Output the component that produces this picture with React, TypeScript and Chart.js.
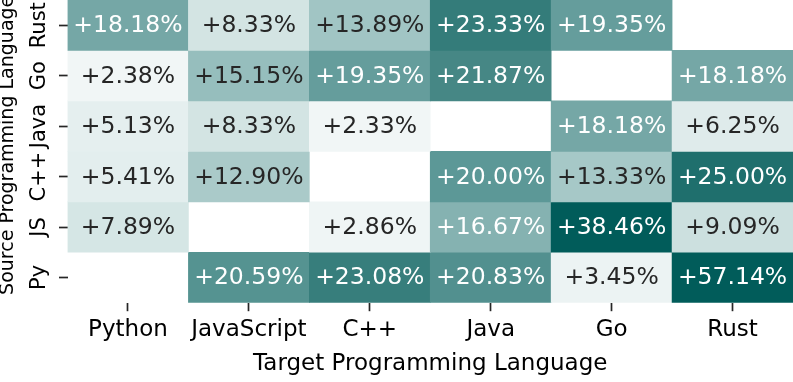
import React, { useEffect, useRef } from "react";
import { Chart, registerables } from "chart.js";

Chart.register(...registerables);

// Columns (target) and rows (source, top to bottom)
const targetLanguages = ["Python", "JavaScript", "C++", "Java", "Go", "Rust"];
const sourceLanguages = ["Rust", "Go", "Java", "C++", "JS", "Py"];

const rustRow = [18.18, 8.33, 13.89, 23.33, 19.35, null];
const goRow = [2.38, 15.15, 19.35, 21.87, null, 18.18];
const javaRow = [5.13, 8.33, 2.33, null, 18.18, 6.25];
const cppRow = [5.41, 12.9, null, 20.0, 13.33, 25.0];
const jsRow = [7.89, null, 2.86, 16.67, 38.46, 9.09];
const pyRow = [null, 20.59, 23.08, 20.83, 3.45, 57.14];

const rows: (number | null)[][] = [rustRow, goRow, javaRow, cppRow, jsRow, pyRow];

// colormap stops (value -> rgb)
const stopValues = [0, 2.33, 5.13, 8.33, 12.9, 15.15, 16.67, 18.18, 20.0, 21.87, 23.33, 25.0, 28.0];
const stopColors: [number, number, number][] = [
  [248, 251, 251],
  [241, 246, 246],
  [229, 239, 239],
  [211, 228, 227],
  [170, 202, 201],
  [150, 190, 189],
  [133, 178, 177],
  [117, 167, 166],
  [92, 152, 151],
  [70, 135, 133],
  [52, 124, 122],
  [31, 111, 109],
  [1, 92, 90],
];

function colorFor(v: number | null): string {
  if (v == null) return "rgba(0,0,0,0)";
  if (v <= stopValues[0]) return `rgb(${stopColors[0].join(",")})`;
  for (let i = 1; i < stopValues.length; i++) {
    if (v <= stopValues[i]) {
      const t = (v - stopValues[i - 1]) / (stopValues[i] - stopValues[i - 1]);
      const a = stopColors[i - 1];
      const b = stopColors[i];
      const c = a.map((x, k) => Math.round(x + (b[k] - x) * t));
      return `rgb(${c.join(",")})`;
    }
  }
  return `rgb(${stopColors[stopColors.length - 1].join(",")})`;
}

const FONT = "'DejaVu Sans', sans-serif";
const TICK_COLOR = "#262626";

const cellLabels = {
  id: "cellLabels",
  afterDatasetsDraw(chart: any) {
    const ctx = chart.ctx;
    ctx.save();
    ctx.font = `23.5px ${FONT}`;
    ctx.textAlign = "center";
    ctx.textBaseline = "alphabetic";
    chart.data.datasets.forEach((ds: any, di: number) => {
      const meta = chart.getDatasetMeta(di);
      meta.data.forEach((el: any, i: number) => {
        const v = ds.values[i];
        if (v == null) return;
        const cy = (el.y + el.base) / 2;
        ctx.fillStyle = v >= 16 ? "#ffffff" : "#262626";
        ctx.fillText(`+${v.toFixed(2)}%`, el.x, cy + 7);
      });
    });
    ctx.restore();
  },
};

export default function App() {
  const ref = useRef<HTMLCanvasElement | null>(null);

  useEffect(() => {
    if (!ref.current) return;
    const datasets = rows.map((row, r) => ({
      label: sourceLanguages[r],
      data: row.map((v) => (v == null ? null : [r - 0.5, r + 0.5])),
      values: row,
      backgroundColor: row.map((v) => colorFor(v)),
      borderWidth: 0,
      borderSkipped: false,
      grouped: false,
      barPercentage: 1,
      categoryPercentage: 1,
    }));

    const xFont = { family: FONT, size: 23 };
    const yTickFont = { family: FONT, size: 21 };
    const yTitleFont = { family: FONT, size: 19 };
    const chart = new Chart(ref.current, {
      type: "bar",
      data: { labels: targetLanguages, datasets: datasets as any },
      options: {
        animation: false,
        responsive: false,
        devicePixelRatio: 1,
        layout: { padding: 0 },
        plugins: { legend: { display: false }, tooltip: { enabled: false } },
        scales: {
          x: {
            type: "category",
            offset: true,
            afterFit: (s: any) => {
              s.height = 382 - 302.7;
              s.paddingLeft = 0;
              s.paddingRight = 0;
            },
            ticks: { font: xFont, color: "#000", padding: 5, maxRotation: 0, autoSkip: false },
            grid: {
              offset: false,
              drawOnChartArea: false,
              drawTicks: true,
              tickLength: 8.5,
              tickWidth: 1.7,
              tickColor: TICK_COLOR,
            },
            border: { display: false },
            title: {
              display: true,
              text: "Target Programming Language",
              font: xFont,
              color: "#000",
              padding: { top: 0, bottom: 4.5 },
            },
          },
          y: {
            type: "linear",
            min: -0.5,
            max: 5.5,
            reverse: true,
            afterBuildTicks: (s: any) => {
              s.ticks = sourceLanguages.map((_, i) => ({ value: i }));
            },
            afterFit: (s: any) => {
              s.width = 67.5;
              s.paddingTop = 0;
              s.paddingBottom = 0;
            },
            ticks: {
              callback: (v: any) => sourceLanguages[v as number] ?? "",
              minRotation: 90,
              maxRotation: 90,
              crossAlign: "center",
              padding: -5.3,
              font: yTickFont,
              color: "#000",
              autoSkip: false,
            },
            grid: {
              drawOnChartArea: false,
              drawTicks: true,
              tickLength: 8.5,
              tickWidth: 1.7,
              tickColor: TICK_COLOR,
            },
            border: { display: false },
            title: {
              display: true,
              text: "\u00a0\u00a0Source Programming Language",
              font: yTitleFont,
              color: "#000",
              padding: { top: -3, bottom: 0 },
            },
          },
        },
      } as any,
      plugins: [cellLabels],
    });
    return () => chart.destroy();
  }, []);

  return (
    <div style={{ position: "fixed", left: 0, top: 0, width: 793, height: 382, background: "#fff" }}>
      <canvas ref={ref} width={793} height={382} style={{ width: 793, height: 382, display: "block" }} />
    </div>
  );
}
